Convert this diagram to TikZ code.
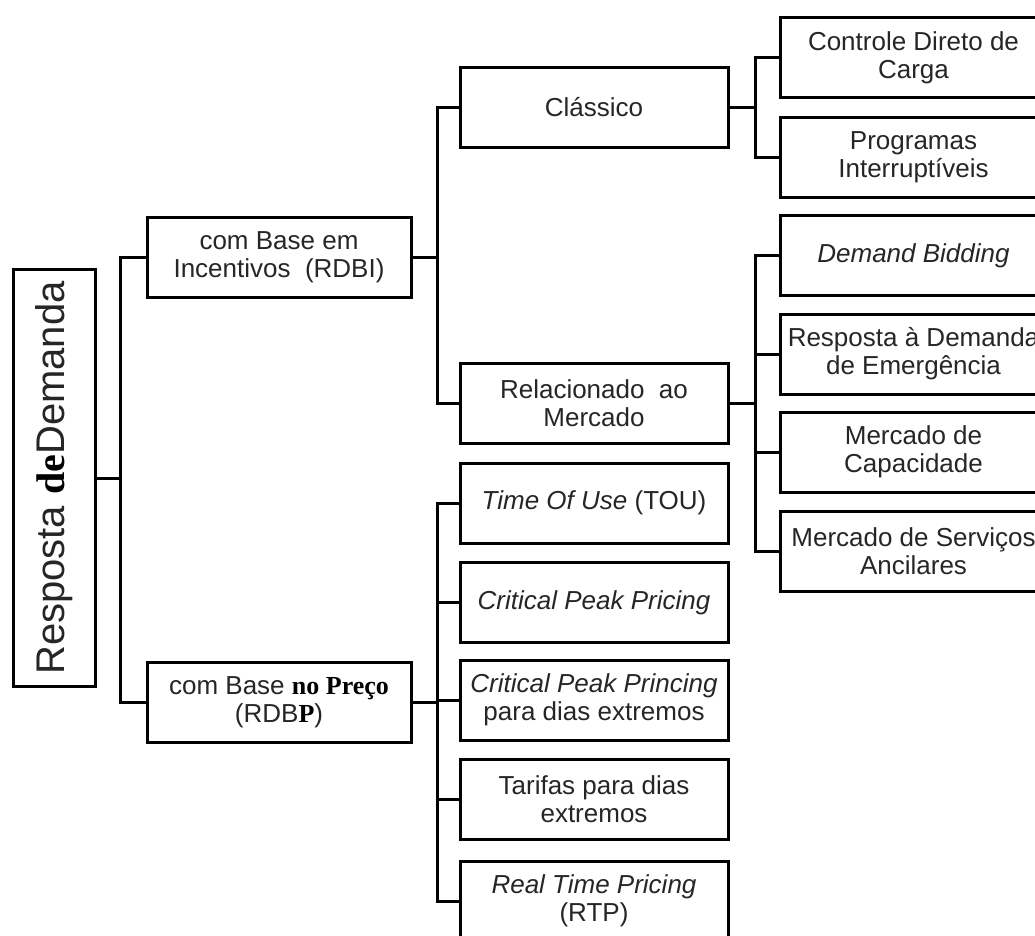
\documentclass[tikz,border=0pt]{standalone}
\usepackage{fontspec}
\setmainfont{Liberation Sans}
\newfontfamily\serifbold{Liberation Serif}
\begin{document}
\begin{tikzpicture}[x=1pt,y=1pt,
  box/.style={draw=black, line width=3pt, fill=white, minimum width=268pt,
    minimum height=80pt, align=center, inner sep=0pt, text=black!85,
    font=\fontsize{26}{28}\selectfont},
  link/.style={draw=black, line width=3pt, line join=miter}]
\useasboundingbox (0,0) rectangle (1035,-935);
\clip (0,0) rectangle (1035,-935);

% root
\node[box, minimum width=82pt, minimum height=417pt] (root) at (54,-478) {};
\node[rotate=90, text=black!85, font=\fontsize{40}{44}\selectfont, inner sep=0pt] (roottext) at (root.center)
  {Resposta {\serifbold\bfseries\color{black}de}Demanda};

% level 1
\node[box, minimum width=264pt] (rdbi) at (279,-257) {com Base em\\Incentivos\ \ (RDBI)};
\node[box, minimum width=264pt] (rdbp) at (279,-702) {com Base {\serifbold\bfseries\color{black}no Preço}\\(RDB{\serifbold\bfseries\color{black}P})};

% level 2 (incentives)
\node[box] (classico) at (594,-107.5) {Clássico};
\node[box] (relac) at (594,-403.5) {Relacionado\ \ ao\\Mercado};

% level 2 (price)
\node[box] (tou) at (594,-503) {\textit{Time Of Use} (TOU)};
\node[box] (cpp) at (594,-602.5) {\textit{Critical Peak Pricing}};
\node[box] (cppx) at (594,-700) {\textit{Critical Peak Princing}\\para dias extremos};
\node[box] (tar) at (594,-799) {Tarifas para dias\\extremos};
\node[box] (rtp) at (594,-901) {\textit{Real Time Pricing}\\(RTP)};

% level 3
\node[box, minimum width=267pt] (cdc) at (913.5,-57.5) {Controle Direto de\\Carga};
\node[box, minimum width=267pt] (pint) at (913.5,-157) {Programas\\Interruptíveis};
\node[box, minimum width=267pt] (db) at (913.5,-255.5) {\textit{Demand Bidding}};
\node[box, minimum width=267pt] (rde) at (913.5,-354) {Resposta à Demanda\\de Emergência};
\node[box, minimum width=267pt] (mcap) at (913.5,-452) {Mercado de\\Capacidade};
\node[box, minimum width=267pt] (msa) at (913.5,-551.5) {Mercado de Serviços\\Ancilares};

% junctions
\coordinate (j0) at (120,-478);
\coordinate (j1) at (437,-257);
\coordinate (j2) at (437,-702);
\coordinate (j3) at (755,-107.5);
\coordinate (j4) at (755,-403.5);

% connectors
\draw[link] (root.east) -- (j0);
\draw[link] (rdbi.west) -| (j0) |- (rdbp.west);

\draw[link] (rdbi.east) -- (j1);
\draw[link] (classico.west) -| (j1) |- (relac.west);

\draw[link] (rdbp.east) -- (j2);
\draw[link] (tou.west) -| (j2) |- (rtp.west);
\draw[link] (cpp.west) -- (cpp.west -| j2);
\draw[link] (cppx.west) -- (cppx.west -| j2);
\draw[link] (tar.west) -- (tar.west -| j2);

\draw[link] (classico.east) -- (j3);
\draw[link] (cdc.west) -| (j3) |- (pint.west);

\draw[link] (relac.east) -- (j4);
\draw[link] (db.west) -| (j4) |- (msa.west);
\draw[link] (rde.west) -- (rde.west -| j4);
\draw[link] (mcap.west) -- (mcap.west -| j4);
\end{tikzpicture}
\end{document}
